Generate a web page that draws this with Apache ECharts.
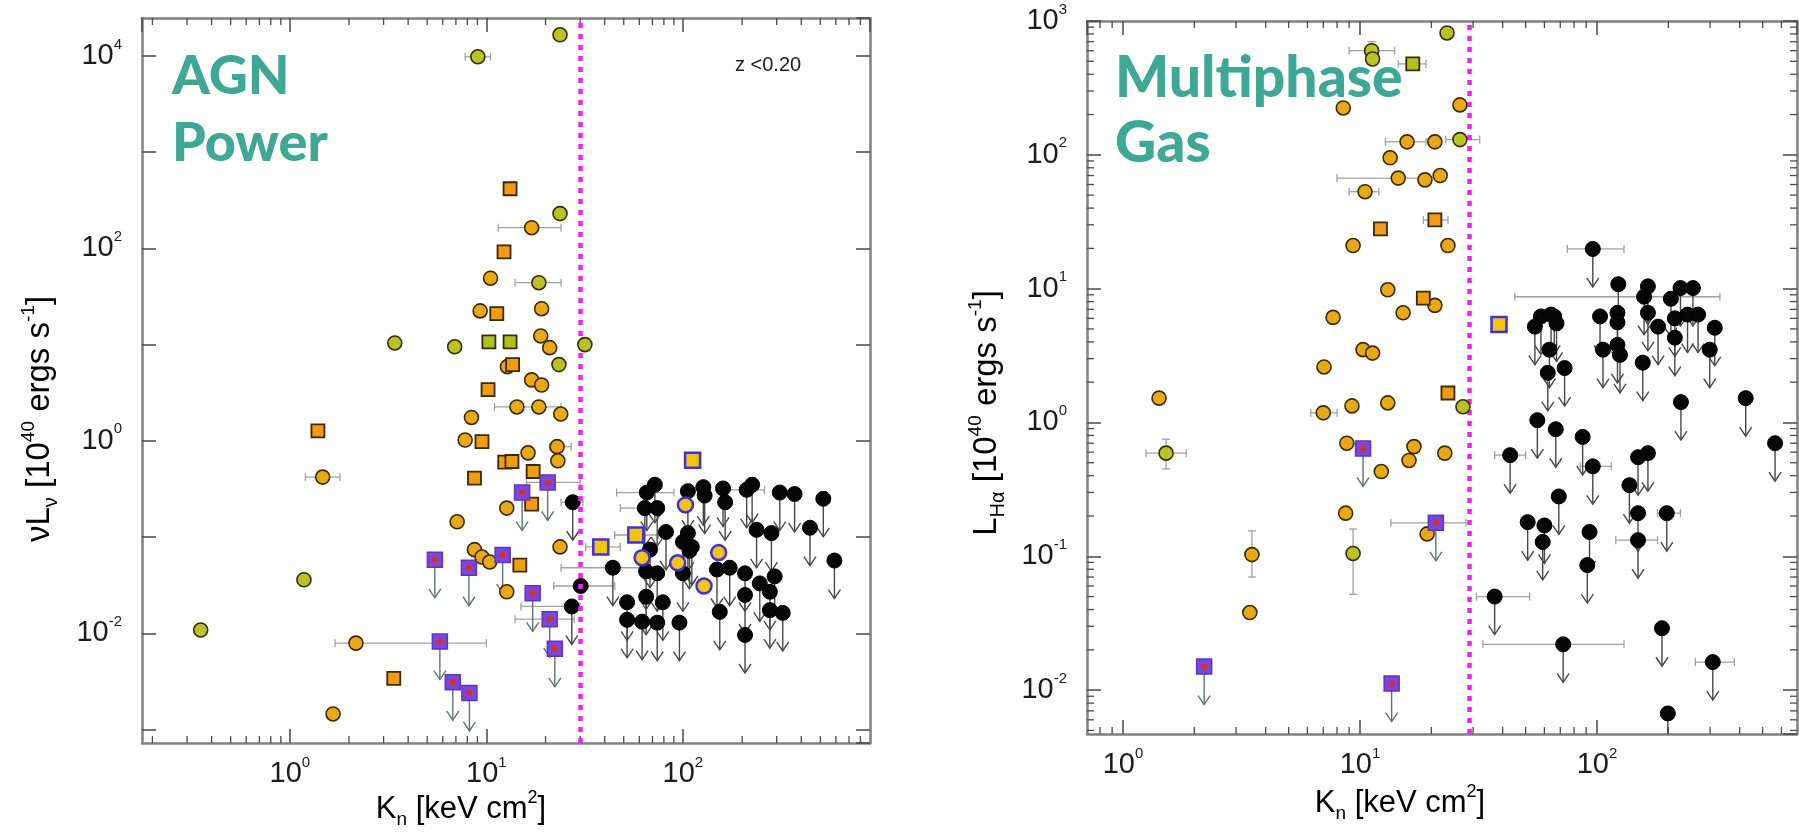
<!DOCTYPE html>
<html><head><meta charset="utf-8">
<script src="https://cdn.jsdelivr.net/npm/echarts@6/dist/echarts.min.js"></script>
<style>html,body{margin:0;padding:0;background:#fff;}#c{width:1799px;height:832px;}</style>
</head><body><div id="c"></div>
<script>
// ---------------- LEFT PANEL (AGN power) ----------------
const agnGoldCircles = [[17.0,164],[10.5,49],[9.3,22.4],[19.1,23.6],[18.9,12.3],[21.0,9.3],[12.8,5.9],[17.0,4.3],[19.1,3.8],[14.3,2.25],[18.5,2.25],[23.9,1.9],[8.4,1.75],[7.8,1.02],[22.9,0.87],[16.3,0.75],[23.1,0.62],[12.7,0.20],[7.1,0.144],[23.7,0.079],[8.7,0.074],[9.5,0.062],[10.4,0.055],[12.7,0.027],[1.47,0.42],[2.17,0.0079],[1.66,0.00145]];
const agnGreenCircles = [[23.7,16600],[9.05,9800],[23.7,230],[18.5,44],[3.42,10.4],[6.9,9.5],[31.7,10],[23.4,6.2],[1.18,0.036],[0.352,0.0108]];
const agnOrangeSquares = [[13.2,417],[12.3,92],[11.3,21],[13.6,6.2],[10.2,3.4],[1.39,1.27],[9.5,0.98],[12.4,0.60],[13.5,0.61],[17.3,0.48],[8.7,0.41],[17.0,0.22],[14.8,0.051],[3.38,0.0034]];
const agnGreenSquares = [[10.3,10.7],[13.2,10.7]];
const agnPurpleLimits = [[20.5,0.37],[15.2,0.29],[12.1,0.065],[5.47,0.058],[8.15,0.048],[17.2,0.026],[21.0,0.014],[5.8,0.0082],[22.3,0.0069],[6.75,0.0031],[8.2,0.0024]];
const agnBlueSquares = [[112,0.63],[57.6,0.105],[38.2,0.079]];
const agnBlueCircles = [[103,0.216],[62,0.061],[94,0.054],[152,0.069],[128,0.031]];
const agnBlackLimits = [[27.5,0.23],[72,0.35],[65.5,0.29],[64,0.20],[74,0.20],[106,0.30],[127,0.33],[129,0.27],[160,0.32],[164,0.23],[211,0.31],[225,0.35],[311,0.29],[370,0.28],[518,0.25],[82,0.113],[106,0.11],[111,0.079],[100,0.089],[108,0.072],[68,0.074],[237,0.119],[282,0.11],[443,0.125],[590,0.057],[44,0.048],[65,0.044],[74,0.042],[100,0.042],[149,0.046],[173,0.048],[207,0.042],[293,0.039],[246,0.033],[277,0.027],[52,0.021],[65,0.024],[79,0.021],[207,0.025],[27.2,0.019],[154,0.0167],[277,0.0174],[322,0.0163],[52,0.0138],[62,0.0132],[74,0.0129],[96,0.0129],[207,0.0096]];
const agnBlackPoints = [[30.2,0.031]];
// [x, y, xLow, xHigh]
const agnXErr = [[9.05,9800,7.8,10.5],[17.0,164,11.5,24],[18.5,44,14,24],[14.3,2.25,11,24],[22.9,0.87,21,27],[1.47,0.42,1.2,1.8],[2.17,0.0079,1.7,10],[20.5,0.37,16,30],[27.5,0.23,24,31],[30.2,0.031,22,45],[27.2,0.019,15,30],[44,0.048,24,60],[65.5,0.29,46,90],[64,0.20,48,80],[57.6,0.105,45,75],[211,0.31,170,260],[38.2,0.079,32,48],[21.0,0.014,14,28]];

// ---------------- RIGHT PANEL (Multiphase gas) ----------------
const gasGoldCircles = [[8.5,224],[26.4,236],[15.8,125],[20.7,125],[13.4,95],[14.5,67],[18.8,65],[21.8,70],[10.5,53],[9.35,21],[23.5,21],[13.1,9.8],[20.7,7.5],[15.2,6.6],[7.7,6.1],[10.3,3.5],[11.3,3.3],[7.05,2.6],[1.42,1.52],[7.0,1.18],[9.25,1.33],[13.1,1.4],[8.8,0.70],[16.9,0.66],[16.1,0.52],[22.8,0.59],[12.3,0.43],[8.7,0.21],[19.2,0.147],[3.5,0.103],[3.43,0.038]];
const gasGreenCircles = [[23.3,814],[11.2,600],[11.3,520],[26.4,130],[27.2,1.31],[1.52,0.59],[9.35,0.105]];
const gasOrangeSquares = [[20.7,32.6],[12.2,28],[23.5,1.66],[18.5,8.5]];
const gasGreenSquares = [[16.7,478]];
const gasPurpleLimits = [[10.3,0.64],[20.9,0.178],[2.2,0.015],[13.6,0.0112]];
const gasBlueSquares = [[38.6,5.4]];
const gasBlackLimits = [[96,19.8],[123,10.8],[164,10.4],[158,8.7],[225,10.1],[254,10.1],[205,8.4],[58,6.2],[64,6.4],[66,6.2],[54.7,5.2],[67.5,5.5],[103,6.2],[122,6.6],[122,5.6],[164,6.6],[181,5.2],[213,6.0],[241,6.4],[267,6.4],[314,5.1],[213,4.3],[299,3.5],[63,3.5],[106,3.5],[122,3.8],[125,3.2],[62,2.35],[73,2.55],[156,2.8],[226,1.42],[424,1.52],[564,0.70],[56,1.04],[67,0.89],[87,0.78],[43,0.57],[96,0.47],[149,0.55],[164,0.59],[137,0.34],[69,0.28],[149,0.21],[197,0.21],[51,0.18],[60,0.17],[59,0.128],[93,0.152],[149,0.132],[91,0.086],[37,0.050],[72,0.022],[188,0.029],[308,0.0162],[199,0.0067]];
const gasXErr = [[11.2,600,9,14],[16.7,478,14.5,19],[15.8,125,12.8,19],[26.4,130,23,32],[14.5,67,8,18],[10.5,53,9,12],[20.7,32.6,18.5,23.5],[1.52,0.59,1.25,1.85],[7.0,1.18,6.2,8],[20.9,0.178,13.5,28],[96,19.8,75,130],[158,8.7,45,330],[37,0.050,31,52],[72,0.022,33,130],[308,0.0162,260,380],[197,0.21,180,225],[149,0.132,120,180],[43,0.57,37,50],[96,0.47,85,115]];
// [x, y, yLow, yHigh]
const gasYErr = [[9.35,0.105,0.052,0.16],[3.5,0.103,0.07,0.155],[1.52,0.59,0.45,0.75],[11.2,600,480,700]];

const threshold = [30, 29];

// ---------------- helpers ----------------
const FONT = 'Liberation Sans';
function minorTicks(lo, hi){ const out=[]; for(let e=Math.floor(Math.log10(lo)); e<=Math.ceil(Math.log10(hi)); e++){ for(let m=2;m<=9;m++){ const v=m*Math.pow(10,e); if(v>lo*1.001 && v<hi*0.999) out.push(v);} } return out; }
const tickRich = {
  b:{fontFamily:FONT,fontSize:29,color:'#1c1c1c',lineHeight:38},
  s:{fontFamily:FONT,fontSize:15,color:'#1c1c1c',lineHeight:15,verticalAlign:'top'}
};
function expFmt(evenOnly){ return function(v){ const l=Math.log10(v); const e=Math.round(l); if(Math.abs(l-e)>1e-3) return ''; if(evenOnly && e%2!==0) return ''; return '{b|10}{s|'+e+'}'; }; }
function logAxis(grid, min, max, pos, showLabel, fmt, margin, showMax){
  return {type:'log', logBase:10, gridIndex:grid, min:min, max:max, position:pos,
    axisLine:{show:true, lineStyle:{color:'#808080', width:2.5}},
    axisTick:{show:true, inside:true, length:14, lineStyle:{color:'#4a4a4a', width:1.5}},
    axisLabel:{show:showLabel, interval:0, margin:margin, showMinLabel:false, showMaxLabel:!!showMax, formatter:fmt, rich:tickRich},
    splitLine:{show:false}, minorTick:{show:false}, minorSplitLine:{show:false}};
}
function sc(data, xi, yi, symbol, size, color, border, bw, z){
  return {type:'scatter', xAxisIndex:xi, yAxisIndex:yi, data:data, symbol:symbol, symbolSize:size,
    itemStyle:{color:color, borderColor:border, borderWidth:bw, opacity:1}, z:z, silent:true, animation:false};
}
function arrows(data, xi, yi, color, len){
  return {type:'custom', xAxisIndex:xi, yAxisIndex:yi, data:data, clip:true, silent:true, z:1, animation:false,
    renderItem:function(params, api){
      const p=api.coord([api.value(0), api.value(1)]);
      const x=p[0], y=p[1]+5, t=p[1]+len;
      return {type:'group', children:[
        {type:'line', shape:{x1:x,y1:y,x2:x,y2:t}, style:{stroke:color, lineWidth:1.4}},
        {type:'polyline', shape:{points:[[x-6,t-9],[x,t],[x+6,t-9]]}, style:{stroke:color, fill:null, lineWidth:1.4}}
      ]};
    }};
}
function xErr(data, xi, yi){
  return {type:'custom', xAxisIndex:xi, yAxisIndex:yi, data:data, clip:true, silent:true, z:1, animation:false,
    renderItem:function(params, api){
      const y=api.value(1);
      const a=api.coord([api.value(2), y]), b=api.coord([api.value(3), y]);
      const st={stroke:'#a2a2a2', lineWidth:1.3};
      return {type:'group', children:[
        {type:'line', shape:{x1:a[0],y1:a[1],x2:b[0],y2:b[1]}, style:st},
        {type:'line', shape:{x1:a[0],y1:a[1]-4,x2:a[0],y2:a[1]+4}, style:st},
        {type:'line', shape:{x1:b[0],y1:b[1]-4,x2:b[0],y2:b[1]+4}, style:st}
      ]};
    }};
}
function yErr(data, xi, yi){
  return {type:'custom', xAxisIndex:xi, yAxisIndex:yi, data:data, clip:true, silent:true, z:1, animation:false,
    renderItem:function(params, api){
      const x=api.value(0);
      const a=api.coord([x, api.value(2)]), b=api.coord([x, api.value(3)]);
      const st={stroke:'#a2a2a2', lineWidth:1.3};
      return {type:'group', children:[
        {type:'line', shape:{x1:a[0],y1:a[1],x2:b[0],y2:b[1]}, style:st},
        {type:'line', shape:{x1:a[0]-4,y1:a[1],x2:a[0]+4,y2:a[1]}, style:st},
        {type:'line', shape:{x1:b[0]-4,y1:b[1],x2:b[0]+4,y2:b[1]}, style:st}
      ]};
    }};
}
function minorX(vals, xi, yi){
  return {type:'custom', xAxisIndex:xi, yAxisIndex:yi, data:vals.map(v=>[v,1]), silent:true, z:3, animation:false,
    renderItem:function(params, api){
      const cs=params.coordSys; const px=api.coord([api.value(0),1])[0];
      const st={stroke:'#4a4a4a', lineWidth:1.3};
      return {type:'group', children:[
        {type:'line', shape:{x1:px,y1:cs.y+cs.height,x2:px,y2:cs.y+cs.height-7}, style:st},
        {type:'line', shape:{x1:px,y1:cs.y,x2:px,y2:cs.y+7}, style:st}]};
    }};
}
function minorY(vals, xi, yi){
  return {type:'custom', xAxisIndex:xi, yAxisIndex:yi, data:vals.map(v=>[1,v]), silent:true, z:3, animation:false,
    renderItem:function(params, api){
      const cs=params.coordSys; const py=api.coord([1,api.value(1)])[1];
      const st={stroke:'#4a4a4a', lineWidth:1.3};
      return {type:'group', children:[
        {type:'line', shape:{x1:cs.x,y1:py,x2:cs.x+7,y2:py}, style:st},
        {type:'line', shape:{x1:cs.x+cs.width,y1:py,x2:cs.x+cs.width-7,y2:py}, style:st}]};
    }};
}
function vline(xv, xi, yi){
  return {type:'scatter', xAxisIndex:xi, yAxisIndex:yi, data:[], z:20, silent:true, animation:false,
    markLine:{silent:true, animation:false, symbol:['none','none'], label:{show:false},
      lineStyle:{color:'#ff1aff', width:4.5, type:[5,6], cap:'butt', opacity:1},
      data:[{xAxis:xv}]}};
}

const L = {xmin:0.177, xmax:895, ymin:7.24e-4, ymax:24800};
const R = {xmin:0.705, xmax:698, ymin:4.7e-3, ymax:1000};

const GOLD='#e9a915', ORANGE='#f29a10', GREEN='#b7c423', GREENSQ='#aec21c', EDGE='#3a2a05';
const PURPLE='#7c46d8', RED='#d9301f', YEL='#f3c40a', BLUE='#3e30e0';

function panel(xi, yi, d){
  return [
    xErr(d.xerr, xi, yi),
    d.yerr ? yErr(d.yerr, xi, yi) : null,
    arrows(d.black, xi, yi, '#484848', 38),
    arrows(d.purple, xi, yi, '#5f7478', 38),
    sc(d.black, xi, yi, 'circle', 15, '#050505', '#000', 1, 4),
    d.blackPts ? sc(d.blackPts, xi, yi, 'circle', 15, '#050505', '#000', 1, 4) : null,
    sc(d.gold, xi, yi, 'circle', 14, GOLD, EDGE, 1.6, 5),
    sc(d.green, xi, yi, 'circle', 14, GREEN, EDGE, 1.6, 5),
    sc(d.orange, xi, yi, 'rect', 13, ORANGE, EDGE, 1.8, 6),
    sc(d.greensq, xi, yi, 'rect', 13, GREENSQ, EDGE, 1.8, 6),
    sc(d.purple, xi, yi, 'rect', 15, PURPLE, '#5a36c8', 1.5, 6),
    sc(d.purple, xi, yi, 'circle', 6, RED, RED, 0, 7),
    sc(d.bluesq, xi, yi, 'rect', 15, YEL, BLUE, 2.5, 7),
    d.bluec ? sc(d.bluec, xi, yi, 'circle', 15, YEL, BLUE, 2.5, 7) : null
  ].filter(Boolean);
}

const series = [].concat(
  [minorX(minorTicks(L.xmin, L.xmax), 0, 0)],
  panel(0, 0, {xerr:agnXErr, black:agnBlackLimits, blackPts:agnBlackPoints, purple:agnPurpleLimits, gold:agnGoldCircles, green:agnGreenCircles, orange:agnOrangeSquares, greensq:agnGreenSquares, bluesq:agnBlueSquares, bluec:agnBlueCircles}),
  [vline(threshold[0], 0, 0)],
  [minorX(minorTicks(R.xmin, R.xmax), 2, 2), minorY(minorTicks(R.ymin, R.ymax), 2, 2)],
  panel(2, 2, {xerr:gasXErr, yerr:gasYErr, black:gasBlackLimits, purple:gasPurpleLimits, gold:gasGoldCircles, green:gasGreenCircles, orange:gasOrangeSquares, greensq:gasGreenSquares, bluesq:gasBlueSquares}),
  [vline(threshold[1], 2, 2)]
);

const nameRich = {
  a:{fontFamily:FONT, fontSize:31, color:'#1c1c1c', lineHeight:40},
  sub:{fontFamily:FONT, fontSize:19, color:'#1c1c1c', lineHeight:18, verticalAlign:'bottom'},
  sup:{fontFamily:FONT, fontSize:18, color:'#1c1c1c', lineHeight:18, verticalAlign:'top'}
};
const yNameRich = {
  a:{fontFamily:FONT, fontSize:33, color:'#1c1c1c', lineHeight:42},
  sub:{fontFamily:FONT, fontSize:20, color:'#1c1c1c', lineHeight:18, verticalAlign:'bottom'},
  sup:{fontFamily:FONT, fontSize:19, color:'#1c1c1c', lineHeight:18, verticalAlign:'top'}
};
const teal = '#3da894';

const option = {
  backgroundColor:'#ffffff',
  animation:false,
  grid:[
    {left:142, top:18, width:728, height:725},
    {left:1087, top:21, width:710, height:713}
  ],
  xAxis:[
    logAxis(0, L.xmin, L.xmax, 'bottom', true, expFmt(false), 12),
    logAxis(0, L.xmin, L.xmax, 'top', false, expFmt(false), 12),
    logAxis(1, R.xmin, R.xmax, 'bottom', true, expFmt(false), 12),
    logAxis(1, R.xmin, R.xmax, 'top', false, expFmt(false), 12)
  ],
  yAxis:[
    logAxis(0, L.ymin, L.ymax, 'left', true, expFmt(true), 20),
    logAxis(0, L.ymin, L.ymax, 'right', false, expFmt(true), 20),
    logAxis(1, R.ymin, R.ymax, 'left', true, expFmt(false), 20, true),
    logAxis(1, R.ymin, R.ymax, 'right', false, expFmt(false), 20)
  ],
  series: series,
  graphic:[
    {type:'text', z:100, silent:true, style:{text:'AGN\nPower', x:172, y:43, fontFamily:'Lato', fontWeight:900, fontSize:54, lineHeight:67, fill:teal, align:'left', verticalAlign:'top'}},
    {type:'text', z:100, silent:true, style:{text:'Multiphase\nGas', x:1115, y:46, fontFamily:'Lato', fontWeight:900, fontSize:57, lineHeight:65, fill:teal, align:'left', verticalAlign:'top'}},
    {type:'text', z:100, silent:true, style:{text:'z <0.20', x:735, y:65, fontFamily:FONT, fontSize:20, fill:'#222', align:'left', verticalAlign:'middle'}},
    {type:'text', z:100, silent:true, style:{text:'{a|K}{sub|n}{a| [keV cm}{sup|2}{a|]}', rich:nameRich, x:461, y:809, align:'center', verticalAlign:'middle'}},
    {type:'text', z:100, silent:true, style:{text:'{a|K}{sub|n}{a| [keV cm}{sup|2}{a|]}', rich:nameRich, x:1400, y:803, align:'center', verticalAlign:'middle'}},
    {type:'text', z:100, silent:true, x:40, y:419, rotation:Math.PI/2, style:{text:'{a|\u03BDL}{sub|\u03BD}{a| [10}{sup|40}{a| ergs s}{sup|-1}{a|]}', rich:yNameRich, x:0, y:0, align:'center', verticalAlign:'middle'}},
    {type:'text', z:100, silent:true, x:987, y:413, rotation:Math.PI/2, style:{text:'{a|L}{sub|H\u03B1}{a| [10}{sup|40}{a| ergs s}{sup|-1}{a|]}', rich:yNameRich, x:0, y:0, align:'center', verticalAlign:'middle'}}
  ]
};
const chart = echarts.init(document.getElementById('c'), null, {renderer:'canvas'});
chart.setOption(option);
</script></body></html>
